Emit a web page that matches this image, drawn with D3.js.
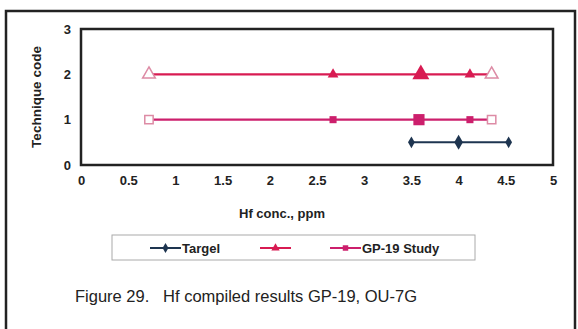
<!DOCTYPE html>
<html>
<head>
<meta charset="utf-8">
<script src="https://cdn.jsdelivr.net/npm/d3@7"></script>
<style>
  body { margin: 0; background: #fff; }
  svg { display: block; font-family: Arial, "Liberation Sans", sans-serif; }
</style>
</head>
<body>
<script>
// data
const xTicks = [0, 0.5, 1, 1.5, 2, 2.5, 3, 3.5, 4, 4.5, 5];
const yTicks = [0, 1, 2, 3];

// technique code 2 (triangles): range ends, mean, other results
const triCode = 2;
const triRange = [0.72, 4.35];
const triMean = 3.6;
const triValues = [2.67, 4.12];

// technique code 1, GP-19 Study (squares)
const sqCode = 1;
const sqRange = [0.72, 4.35];
const sqMean = 3.58;
const sqValues = [2.67, 4.12];

// target (diamonds)
const tgtCode = 0.5;
const tgtValues = [3.5, 4.0, 4.53];

const legendNames = ['Targel', '', 'GP-19 Study'];

const W = 578, H = 329;
const margin = {left: 81, right: 25, top: 29, bottom: 164};
const width = W - margin.left - margin.right,
      height = H - margin.top - margin.bottom;

const cTri = '#d81b52', cSq = '#cc1f6c', cTgt = '#1e3550';

const svg = d3.select('body').append('svg')
    .attr('width', W).attr('height', H);

// outer frame
svg.append('rect')
    .attr('x', 6).attr('y', 11).attr('width', 569).attr('height', 330)
    .attr('fill', 'none').attr('stroke', '#222').attr('stroke-width', 2.5);

const x = d3.scaleLinear().domain([0, 5]).range([0, width]);
const y = d3.scaleLinear().domain([0, 3]).range([height, 0]);

const g = svg.append('g')
    .attr('transform', 'translate(' + margin.left + ',' + margin.top + ')');

// plot area border
g.append('rect')
    .attr('width', width).attr('height', height)
    .attr('fill', 'none').attr('stroke', '#222').attr('stroke-width', 2.5);

// axes
const xAxis = d3.axisBottom(x).tickValues(xTicks).tickSize(0).tickPadding(11)
    .tickFormat(d3.format('~g'));
g.append('g')
    .attr('transform', 'translate(0,' + height + ')')
    .call(xAxis)
    .call(a => a.select('.domain').remove())
    .selectAll('text')
        .style('font-size', '13px').style('font-weight', 'bold').attr('fill', '#222');

const yAxis = d3.axisLeft(y).tickValues(yTicks).tickSize(0).tickPadding(10)
    .tickFormat(d3.format('d'));
g.append('g')
    .call(yAxis)
    .call(a => a.select('.domain').remove())
    .selectAll('text')
        .style('font-size', '13px').style('font-weight', 'bold').attr('fill', '#222');

// axis titles
svg.append('text')
    .text('Hf conc., ppm')
    .attr('x', 282).attr('y', 218)
    .attr('text-anchor', 'middle')
    .style('font-size', '13px').style('font-weight', 'bold').attr('fill', '#222');
svg.append('text')
    .text('Technique code')
    .attr('transform', 'translate(41,' + (margin.top + height / 2) + ') rotate(-90)')
    .attr('text-anchor', 'middle')
    .style('font-size', '13.5px').style('font-weight', 'bold').attr('fill', '#222');

// marker shapes
const sym = (type, size) => d3.symbol().type(type).size(size)();

function drawSeries(code, range, mean, values, color, type) {
    const pts = [range[0], ...values, mean, range[1]].sort(d3.ascending);
    const s = g.append('g');
    s.append('line')
        .attr('x1', x(d3.min(pts))).attr('x2', x(d3.max(pts)))
        .attr('y1', y(code)).attr('y2', y(code))
        .attr('stroke', color).attr('stroke-width', 2.2);
    // open end markers
    s.selectAll('.end').data(range).join('path')
        .attr('transform', d => 'translate(' + x(d) + ',' + y(code) + ')')
        .attr('d', sym(type, 70))
        .attr('fill', '#fff').attr('stroke', '#dd8ba5').attr('stroke-width', 1.5);
    s.selectAll('.val').data(values).join('path')
        .attr('transform', d => 'translate(' + x(d) + ',' + y(code) + ')')
        .attr('d', sym(type, 50))
        .attr('fill', color);
    s.append('path')
        .attr('transform', 'translate(' + x(mean) + ',' + y(code) + ')')
        .attr('d', sym(type, 125))
        .attr('fill', color);
}

drawSeries(triCode, triRange, triMean, triValues, cTri, d3.symbolTriangle);
drawSeries(sqCode, sqRange, sqMean, sqValues, cSq, d3.symbolSquare);

// target
g.append('path')
    .datum(tgtValues)
    .attr('d', d3.line().x(d => x(d)).y(() => y(tgtCode)))
    .attr('stroke', cTgt).attr('stroke-width', 2).attr('fill', 'none');
g.selectAll('.tgt').data(tgtValues).join('path')
    .attr('transform', d => 'translate(' + x(d) + ',' + y(tgtCode) + ')')
    .attr('d', (d, i) => sym(d3.symbolDiamond, i === 1 ? 65 : 40))
    .attr('fill', cTgt);

// legend
const lg = svg.append('g');
lg.append('rect')
    .attr('x', 112).attr('y', 235).attr('width', 363).attr('height', 25)
    .attr('fill', '#fff').attr('stroke', '#aaa').attr('stroke-width', 1);
const legendItems = [
    {name: legendNames[0], color: cTgt, type: d3.symbolDiamond, x0: 150},
    {name: legendNames[1], color: cTri, type: d3.symbolTriangle, x0: 260},
    {name: legendNames[2], color: cSq, type: d3.symbolSquare, x0: 330}
];
legendItems.forEach(it => {
    lg.append('line')
        .attr('x1', it.x0).attr('x2', it.x0 + 31)
        .attr('y1', 248).attr('y2', 248)
        .attr('stroke', it.color).attr('stroke-width', 2);
    lg.append('path')
        .attr('transform', 'translate(' + (it.x0 + 15.5) + ',248)')
        .attr('d', sym(it.type, 30))
        .attr('fill', it.color);
    lg.append('text')
        .text(it.name)
        .attr('x', it.x0 + 32).attr('y', 252.5)
        .style('font-size', '13px').style('font-weight', 'bold').attr('fill', '#222');
});

// caption
svg.append('text')
    .attr('x', 75).attr('y', 302)
    .style('font-size', '16.5px').attr('fill', '#222')
    .text('Figure 29.\u00a0\u00a0\u00a0Hf compiled results GP-19, OU-7G');
</script>
</body>
</html>
